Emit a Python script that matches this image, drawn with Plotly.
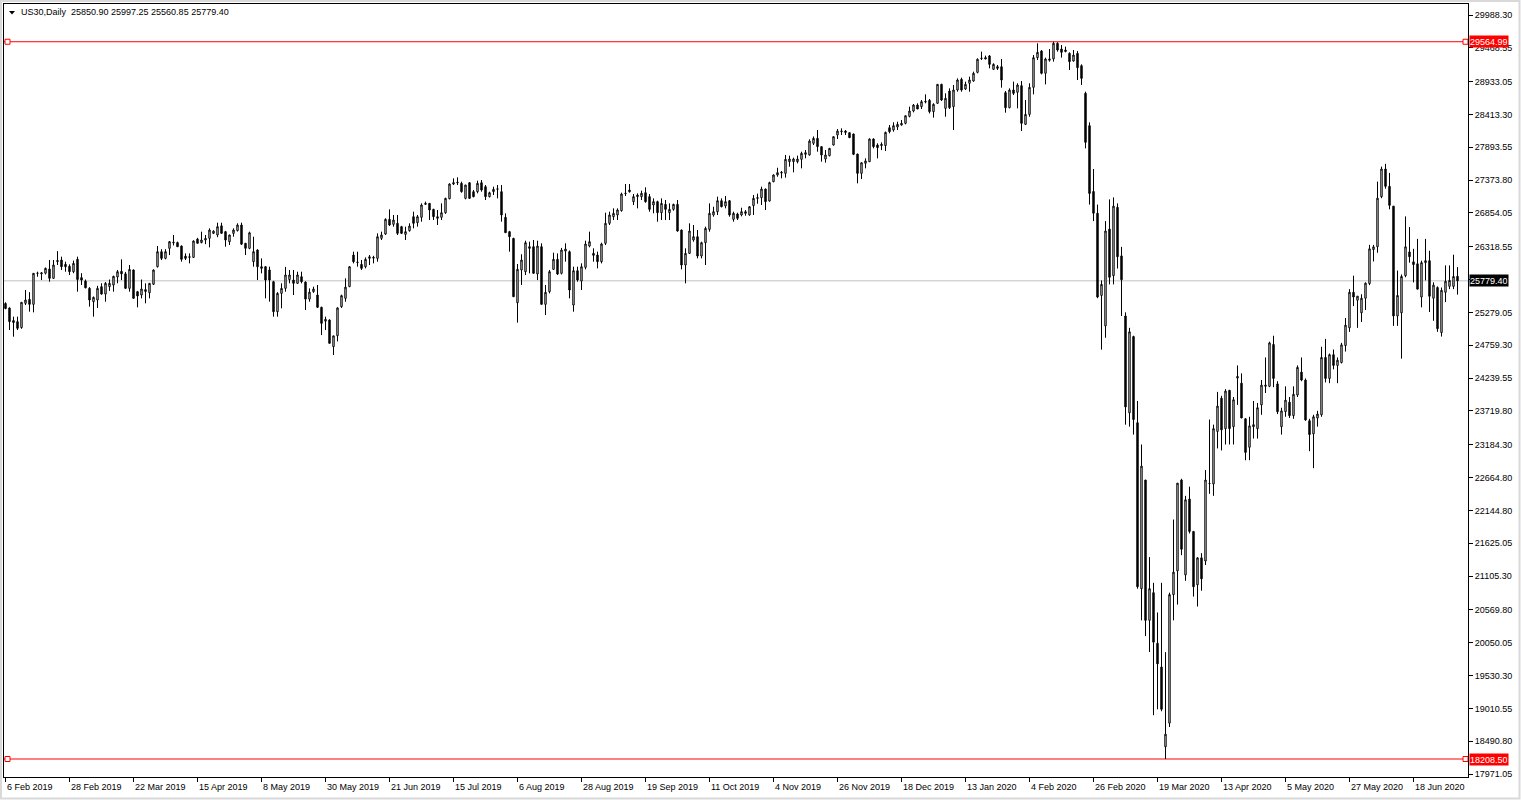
import plotly.graph_objects as go

# ---------------- data ----------------
symbol = "US30,Daily"
date_labels = ["6 Feb 2019", "28 Feb 2019", "22 Mar 2019", "15 Apr 2019", "8 May 2019",
               "30 May 2019", "21 Jun 2019", "15 Jul 2019", "6 Aug 2019", "28 Aug 2019",
               "19 Sep 2019", "11 Oct 2019", "4 Nov 2019", "26 Nov 2019", "18 Dec 2019",
               "13 Jan 2020", "4 Feb 2020", "26 Feb 2020", "19 Mar 2020", "13 Apr 2020",
               "5 May 2020", "27 May 2020", "18 Jun 2020"]
label_every = 16

price_ticks = [29988.30, 29468.55, 28933.05, 28413.30, 27893.55, 27373.80, 26854.05, 26318.55,
               25798.80, 25279.05, 24759.30, 24239.55, 23719.80, 23184.30, 22664.80, 22144.80,
               21625.05, 21105.30, 20569.80, 20050.05, 19530.30, 19010.55, 18490.80, 17971.05]

opens = [
    25420, 25349, 25150, 25133, 25040, 25423, 25486, 25407, 25898, 25890,
    25900, 25967, 25819, 26083, 26109, 26040, 26010, 25924, 26120, 25830,
    25776, 25660, 25449, 25476, 25687, 25570, 25687, 25713, 25840, 25930,
    25890, 25660, 25951, 25608, 25555, 25640, 25590, 25725, 26003, 26241,
    26135, 26294, 26380, 26385, 26330, 26170, 26150, 26150, 26440, 26385,
    26426, 26452, 26531, 26505, 26650, 26558, 26399, 26531, 26575, 26663,
    26373, 26294, 26083, 26267, 26003, 26003, 25951, 25766, 25291, 25581,
    25660, 25800, 25792, 25740, 25845, 25760, 25490, 25608, 25555, 25360,
    25140, 25159, 24737, 24910, 25370, 25502, 25687, 26188, 26070, 26040,
    26003, 26135, 26150, 26135, 26452, 26521, 26753, 26674, 26690, 26637,
    26515, 26573, 26795, 26700, 26785, 26990, 27006, 26911, 26769, 26785,
    26858, 27080, 27312, 27330, 27323, 27085, 27333, 27191, 27191, 27333,
    27270, 27112, 27191, 27230, 27191, 26785, 26558, 26452, 25433, 25951,
    25924, 26320, 26320, 25888, 26320, 25407, 25608, 25961, 26120, 25898,
    26250, 26241, 25396, 25940, 25776, 25993, 26330, 26214, 26188, 26083,
    26373, 26690, 26795, 26822, 26890, 27160, 27217, 27033, 27112, 27112,
    27175, 27112, 26980, 27033, 26858, 26990, 26858, 26911, 26990, 26584,
    26030, 26214, 26426, 26478, 26172, 26383, 26594, 26822, 26874, 27048,
    26964, 27048, 26753, 26838, 26822, 26874, 26822, 26970, 27085, 27095,
    27233, 27043, 27349, 27455, 27487, 27481, 27666, 27666, 27666, 27703,
    27782, 27772, 27957, 28035, 27904, 27708, 27761, 27930, 28088, 28141,
    28151, 28125, 28104, 27787, 27481, 27640, 27666, 28025, 27930, 27920,
    27920, 28204, 28167, 28215, 28246, 28273, 28384, 28468, 28563, 28537,
    28610, 28637, 28458, 28590, 28890, 28510, 28785, 28537, 28801, 28970,
    28817, 28907, 28943, 29080, 29300, 29313, 29340, 29128, 29170, 29170,
    28759, 28521, 28801, 28764, 28870, 28257, 28415, 28843, 29313, 29418,
    29065, 29271, 29292, 29540, 29450, 29410, 29381, 29260, 29381, 29186,
    28748, 28236, 27194, 26850, 25548, 25066, 26599, 25861, 26943, 26174,
    25223, 23690, 24897, 23533, 20905, 22626, 20404, 20842, 20041, 19665,
    18402, 18777, 20811, 21186, 22626, 21124, 22325, 21812, 20967, 21393,
    21343, 22570, 22563, 23395, 23921, 23439, 24046, 23470, 24240, 24159,
    23595, 23144, 23470, 23439, 23815, 24109, 24109, 24772, 24147, 23470,
    23708, 23858, 23645, 23971, 24334, 24209, 23564, 23357, 23607, 23658,
    24566, 24234, 24610, 24440, 24485, 24754, 25035, 25598, 25473, 25273,
    25504, 25736, 26274, 26318, 27112, 27550, 27275, 26962, 25223, 25273,
    25861, 26236, 26080, 26049, 25523, 26067, 26099, 25504, 25673, 24960,
    25598, 25692, 25692, 25850.90,
]

highs = [
    25440, 25360, 25212, 25212, 25440, 25634, 25600, 25900, 25924, 25915,
    25990, 26109, 26109, 26250, 26162, 26083, 26040, 26100, 26162, 25900,
    25800, 25680, 25530, 25700, 25740, 25760, 25800, 25860, 25951, 26120,
    25920, 26030, 25960, 25620, 25800, 25740, 25745, 25960, 26330, 26280,
    26280, 26410, 26505, 26400, 26340, 26214, 26214, 26420, 26460, 26558,
    26505, 26610, 26580, 26700, 26700, 26570, 26510, 26610, 26690, 26700,
    26380, 26558, 26478, 26280, 26135, 26010, 26003, 25780, 25600, 25740,
    26000, 25951, 25951, 25924, 25924, 25770, 25660, 25687, 25713, 25370,
    25212, 25170, 24910, 25360, 25560, 25819, 26010, 26241, 26241, 26109,
    26150, 26188, 26175, 26531, 26558, 26769, 26911, 26822, 26822, 26650,
    26637, 26690, 26874, 26822, 27006, 27033, 27010, 26920, 26901, 27006,
    27095, 27323, 27402, 27418, 27349, 27300, 27340, 27217, 27365, 27376,
    27296, 27190, 27270, 27296, 27296, 26848, 26570, 26460, 26046, 26200,
    26415, 26399, 26426, 26415, 26373, 25713, 25951, 26225, 26214, 26300,
    26373, 26260, 26003, 26003, 26056, 26415, 26558, 26294, 26241, 26383,
    26858, 26874, 26927, 26927, 27175, 27312, 27312, 27154, 27165, 27207,
    27260, 27154, 27085, 27048, 27085, 27059, 27006, 27000, 27059, 26590,
    26294, 26690, 26663, 26584, 26399, 26637, 27006, 26953, 27112, 27085,
    27122, 27059, 26874, 26858, 26937, 26900, 26960, 27138, 27160, 27270,
    27240, 27349, 27465, 27570, 27518, 27772, 27761, 27730, 27761, 27824,
    27851, 28020, 28065, 28167, 27910, 27851, 27877, 28062, 28183, 28194,
    28167, 28130, 28110, 27790, 27650, 27719, 28035, 28035, 27957, 27972,
    28141, 28246, 28289, 28299, 28326, 28394, 28537, 28579, 28590, 28642,
    28732, 28658, 28590, 28890, 28900, 28748, 28827, 28880, 28985, 28996,
    28933, 29012, 29091, 29302, 29408, 29345, 29355, 29223, 29197, 29292,
    28785, 28827, 28933, 28907, 28943, 28643, 28907, 29355, 29540, 29434,
    29313, 29450, 29564.99, 29556, 29513, 29487, 29397, 29434, 29418, 29207,
    28774, 28289, 27550, 26987, 25786, 26725, 27069, 27100, 27006, 26317,
    25280, 25035, 24910, 23877, 23188, 22626, 21405, 20998, 20529, 20998,
    19900, 20842, 22000, 22576, 22645, 22375, 22520, 21812, 21405, 21468,
    22782, 23583, 23502, 24021, 23959, 24065, 24046, 23940, 24440, 24315,
    23607, 23627, 23877, 23846, 24209, 24566, 24816, 24910, 24190, 23770,
    24109, 23940, 24109, 24440, 24566, 24234, 23595, 23658, 23721, 24735,
    24860, 24628, 24691, 24566, 24797, 25191, 25648, 25861, 25536, 25567,
    25755, 26349, 26349, 27350, 27588, 27632, 27488, 26962, 25942, 25880,
    26799, 26631, 26286, 26443, 26099, 26443, 26255, 25755, 25692, 25673,
    26024, 26024, 26193, 25997.25,
]

lows = [
    25330, 25001, 24895, 25001, 25020, 25396, 25291, 25280, 25845, 25792,
    25880, 25766, 25810, 26030, 25951, 25924, 25872, 25900, 25608, 25713,
    25660, 25370, 25212, 25350, 25560, 25449, 25620, 25608, 25740, 25792,
    25650, 25608, 25502, 25360, 25502, 25423, 25502, 25713, 25990, 26109,
    26120, 26188, 26340, 26320, 26083, 26109, 26056, 26140, 26373, 26373,
    26360, 26310, 26520, 26470, 26531, 26320, 26346, 26478, 26560, 26346,
    26188, 26280, 26003, 25792, 25898, 25502, 25450, 25212, 25212, 25344,
    25608, 25740, 25555, 25730, 25740, 25317, 25449, 25590, 25350, 24921,
    25001, 24790, 24605, 24820, 25350, 25449, 25680, 26056, 26003, 25951,
    25977, 26030, 26056, 26083, 26426, 26505, 26647, 26637, 26505, 26520,
    26426, 26558, 26610, 26637, 26716, 26980, 26742, 26742, 26663, 26742,
    26840, 27070, 27296, 27296, 27175, 27070, 27075, 27101, 27165, 27191,
    27059, 27100, 27138, 27085, 26716, 26540, 26241, 25528, 25117, 25713,
    25872, 25898, 25898, 25792, 25407, 25238, 25581, 25951, 25872, 25880,
    26083, 25502, 25291, 25766, 25634, 25961, 26310, 26083, 25977, 26056,
    26346, 26663, 26742, 26742, 26874, 27122, 27175, 26980, 26927, 27059,
    27015, 26874, 26848, 26716, 26742, 26742, 26742, 26890, 26558, 25961,
    25740, 26204, 26399, 26135, 26135, 26030, 26558, 26795, 26822, 26943,
    26927, 26795, 26716, 26742, 26800, 26810, 26810, 26822, 27000, 26980,
    26900, 27033, 27340, 27428, 27402, 27413, 27587, 27497, 27640, 27560,
    27719, 27761, 27930, 27824, 27666, 27650, 27750, 27920, 28025, 28088,
    28088, 28040, 27770, 27323, 27391, 27560, 27660, 27877, 27719, 27850,
    27835, 28115, 28141, 28167, 28236, 28257, 28368, 28447, 28500, 28500,
    28590, 28430, 28363, 28580, 28626, 28378, 28500, 28168, 28774, 28774,
    28801, 28774, 28933, 29065, 29276, 29292, 29144, 29118, 29118, 28838,
    28442, 28510, 28721, 28510, 28151, 28246, 28378, 28732, 29276, 29049,
    28890, 29250, 29250, 29408, 29313, 29397, 29118, 29250, 28959, 28880,
    27877, 26987, 26725, 25504, 24690, 24878, 25723, 25723, 25974, 25223,
    23502, 23470, 23345, 20905, 20404, 20154, 19903, 18902, 18996, 18965,
    18208.50, 18715, 20404, 20654, 21436, 21030, 21780, 20780, 20623, 20873,
    21280, 22407, 22375, 23126, 23094, 23188, 23188, 23188, 23815, 23607,
    22939, 22939, 23282, 23282, 23658, 24003, 24096, 24096, 23670, 23345,
    23627, 23608, 23595, 23940, 24190, 23564, 23082, 22813, 23470, 23627,
    24171, 24159, 24378, 24159, 24472, 24660, 24972, 25379, 25035, 25129,
    25317, 25711, 26086, 26224, 27088, 27238, 26912, 25066, 25066, 24547,
    25836, 26067, 25755, 25648, 25360, 25786, 25285, 25147, 24972, 24897,
    25442, 25648, 25648, 25560.85,
]

closes = [
    25340, 25133, 25120, 25027, 25439, 25476, 25407, 25898, 25900, 25905,
    25977, 25819, 26030, 26100, 26003, 26003, 25924, 26056, 25800, 25792,
    25670, 25476, 25518, 25660, 25570, 25740, 25740, 25850, 25924, 25890,
    25660, 25960, 25502, 25540, 25650, 25610, 25740, 25951, 26241, 26135,
    26241, 26399, 26390, 26320, 26120, 26135, 26160, 26410, 26373, 26426,
    26450, 26584, 26566, 26637, 26531, 26426, 26505, 26584, 26663, 26360,
    26294, 26540, 26241, 26003, 25977, 25792, 25792, 25291, 25581, 25660,
    25872, 25872, 25740, 25872, 25766, 25490, 25600, 25650, 25360, 25106,
    25170, 24790, 24908, 25350, 25545, 25680, 26003, 26083, 26075, 25977,
    26120, 26160, 26140, 26478, 26505, 26753, 26663, 26742, 26531, 26531,
    26558, 26647, 26690, 26795, 26980, 27006, 26901, 26795, 26795, 26858,
    27085, 27312, 27333, 27338, 27191, 27296, 27085, 27112, 27323, 27217,
    27112, 27175, 27228, 27235, 26822, 26542, 26478, 25528, 25961, 26109,
    26383, 26294, 25898, 26330, 25407, 25597, 25924, 26120, 25887, 26267,
    26283, 25634, 25940, 25792, 26003, 26362, 26399, 26183, 26083, 26362,
    26690, 26822, 26848, 26901, 27154, 27165, 27191, 27112, 27138, 27165,
    27033, 26911, 27033, 26858, 27006, 26911, 26911, 26990, 26568, 26030,
    26214, 26568, 26478, 26172, 26383, 26610, 26848, 26874, 27048, 26953,
    27033, 26822, 26848, 26769, 26874, 26848, 26953, 27085, 27095, 27233,
    27033, 27334, 27455, 27492, 27497, 27703, 27708, 27708, 27708, 27798,
    27808, 27993, 28035, 27904, 27772, 27772, 27877, 28062, 28151, 28150,
    28130, 28046, 27782, 27481, 27650, 27677, 28025, 27904, 27888, 27941,
    28130, 28141, 28236, 28257, 28273, 28394, 28468, 28563, 28500, 28616,
    28620, 28458, 28574, 28890, 28642, 28669, 28521, 28801, 28959, 28801,
    28891, 28959, 29065, 29287, 29305, 29292, 29207, 29207, 29144, 28959,
    28521, 28801, 28748, 28880, 28273, 28415, 28843, 29313, 29397, 29065,
    29292, 29292, 29540, 29434, 29397, 29434, 29250, 29355, 29155, 28985,
    27972, 27163, 26850, 25523, 25723, 26568, 25836, 26962, 26161, 25798,
    23783, 24972, 23583, 20936, 22845, 20404, 20905, 20059, 19715, 18996,
    18601, 20811, 21167, 22576, 21530, 22313, 21812, 20936, 21393, 21061,
    22626, 22570, 23439, 23796, 23420, 24034, 23439, 23896, 24265, 23608,
    23063, 23483, 23502, 23770, 24128, 24128, 24797, 24234, 23708, 23720,
    23890, 23645, 23983, 24409, 24209, 23577, 23345, 23627, 23670, 24566,
    24234, 24610, 24440, 24522, 24766, 25078, 25598, 25523, 25536, 25504,
    25742, 26286, 26317, 27088, 27550, 27275, 26975, 25223, 25548, 25848,
    26318, 26161, 26036, 25648, 26067, 26099, 25535, 25711, 25022, 25629,
    25773, 25786, 25848, 25779.40,
]

# ---------------- layout geometry ----------------
W, H = 1521, 800
ML, MR, MT, MB = 4, 53, 4, 23
PW, PH = W - ML - MR, H - MT - MB
BAR_PX = 4                       # pixels per daily bar
X0 = -0.375
X1 = X0 + PW / BAR_PX
TOP_TICK_PX, BOT_TICK_PX = 15, 774
ppx = (price_ticks[0] - price_ticks[-1]) / (BOT_TICK_PX - TOP_TICK_PX)
Y_TOP = price_ticks[0] + ppx * (TOP_TICK_PX - MT)
Y_BOT = price_ticks[-1] - ppx * (H - MB - BOT_TICK_PX)

FONT = "Liberation Sans, Arial, sans-serif"


def px_x(px):
    return (px - ML) / PW


def px_y(py):
    return (H - MB - py) / PH


n = len(closes)
xs = list(range(n))
hi_level = max(highs)
lo_level = min(lows)
last = closes[-1]

fig = go.Figure()
fig.add_trace(go.Candlestick(
    x=xs, open=opens, high=highs, low=lows, close=closes,
    increasing=dict(line=dict(color="black", width=1), fillcolor="white"),
    decreasing=dict(line=dict(color="black", width=1), fillcolor="black"),
    whiskerwidth=0, hoverinfo="skip", showlegend=False,
))

# small square handles at both ends of the red level lines
sq_left = X0 + (7.5 - ML) / BAR_PX
sq_right = X0 + (1465.5 - ML) / BAR_PX
fig.add_trace(go.Scatter(
    x=[sq_left, sq_right, sq_left, sq_right], y=[hi_level, hi_level, lo_level, lo_level],
    mode="markers", marker=dict(symbol="square", size=5, color="white",
                                line=dict(color="#ff0000", width=1)),
    hoverinfo="skip", showlegend=False, cliponaxis=False,
))

shapes = [
    dict(type="line", xref="paper", yref="y", x0=0, x1=1, y0=last, y1=last,
         line=dict(color="#c0c0c0", width=1), layer="below"),
    dict(type="line", xref="paper", yref="y", x0=0, x1=1, y0=hi_level, y1=hi_level,
         line=dict(color="#ff0000", width=1), layer="below"),
    dict(type="line", xref="paper", yref="y", x0=0, x1=1, y0=lo_level, y1=lo_level,
         line=dict(color="#ff0000", width=1), layer="below"),
    # small down triangle of the chart header
    dict(type="path", xref="paper", yref="paper",
         path=f"M {px_x(9)} {px_y(11)} L {px_x(15)} {px_y(11)} L {px_x(12)} {px_y(14.5)} Z",
         fillcolor="black", line=dict(color="black", width=0)),
    # light window frame
    dict(type="rect", xref="paper", yref="paper",
         x0=px_x(1), x1=px_x(W - 1.5), y0=px_y(H - 1.5), y1=px_y(1),
         line=dict(color="#d9d9d9", width=2), fillcolor="rgba(0,0,0,0)"),
]

annotations = []
for value, bg in [(hi_level, "#ff0000"), (lo_level, "#ff0000"), (last, "#000000")]:
    annotations.append(dict(
        x=1, xref="paper", y=value, yref="y", xanchor="left", yanchor="middle",
        xshift=1, text=f"{value:.2f}", showarrow=False, bgcolor=bg, borderpad=0,
        height=11, font=dict(family=FONT, size=9, color="white")))

for k, lab in enumerate(date_labels):
    annotations.append(dict(
        x=k * label_every, xref="x", y=0, yref="paper", xanchor="left", yanchor="top",
        xshift=-1, yshift=-3, text=lab, showarrow=False,
        font=dict(family=FONT, size=9, color="black")))

header = (f"{symbol}\u00a0\u00a0{opens[-1]:.2f} {highs[-1]:.2f} "
          f"{lows[-1]:.2f} {closes[-1]:.2f}")
annotations.append(dict(
    x=px_x(19), xref="paper", y=px_y(12), yref="paper", xanchor="left", yanchor="middle",
    text=header, showarrow=False, font=dict(family=FONT, size=9, color="black")))

# the last-price box hides the axis label right under it (as in the reference)
hidden_band = 8 * ppx
tick_text = ["" if abs(v - last) < hidden_band else f"{v:.2f}" for v in price_ticks]

fig.update_layout(
    template="none",
    width=W, height=H,
    margin=dict(l=ML, r=MR, t=MT, b=MB, pad=0),
    paper_bgcolor="white", plot_bgcolor="white",
    showlegend=False, hovermode=False,
    boxgap=0.5,
    shapes=shapes, annotations=annotations,
    xaxis=dict(range=[X0, X1], showgrid=False, zeroline=False, showline=True,
               linecolor="black", linewidth=1, mirror=True, ticks="outside",
               ticklen=4, tickwidth=1, tickcolor="black",
               tickvals=[k * label_every for k in range(len(date_labels))],
               showticklabels=False, rangeslider=dict(visible=False),
               automargin=False, fixedrange=True),
    yaxis=dict(range=[Y_BOT, Y_TOP], side="right", showgrid=False, zeroline=False,
               showline=True, linecolor="black", linewidth=1, mirror=True,
               ticks="outside", ticklen=4, tickwidth=1, tickcolor="black",
               tickvals=price_ticks, ticktext=tick_text,
               tickfont=dict(family=FONT, size=9, color="black"),
               automargin=False, fixedrange=True),
)

fig.write_html("out.html", config={"displayModeBar": False, "staticPlot": True},
               post_script="document.body.style.margin='0';document.body.style.overflow='hidden';")
